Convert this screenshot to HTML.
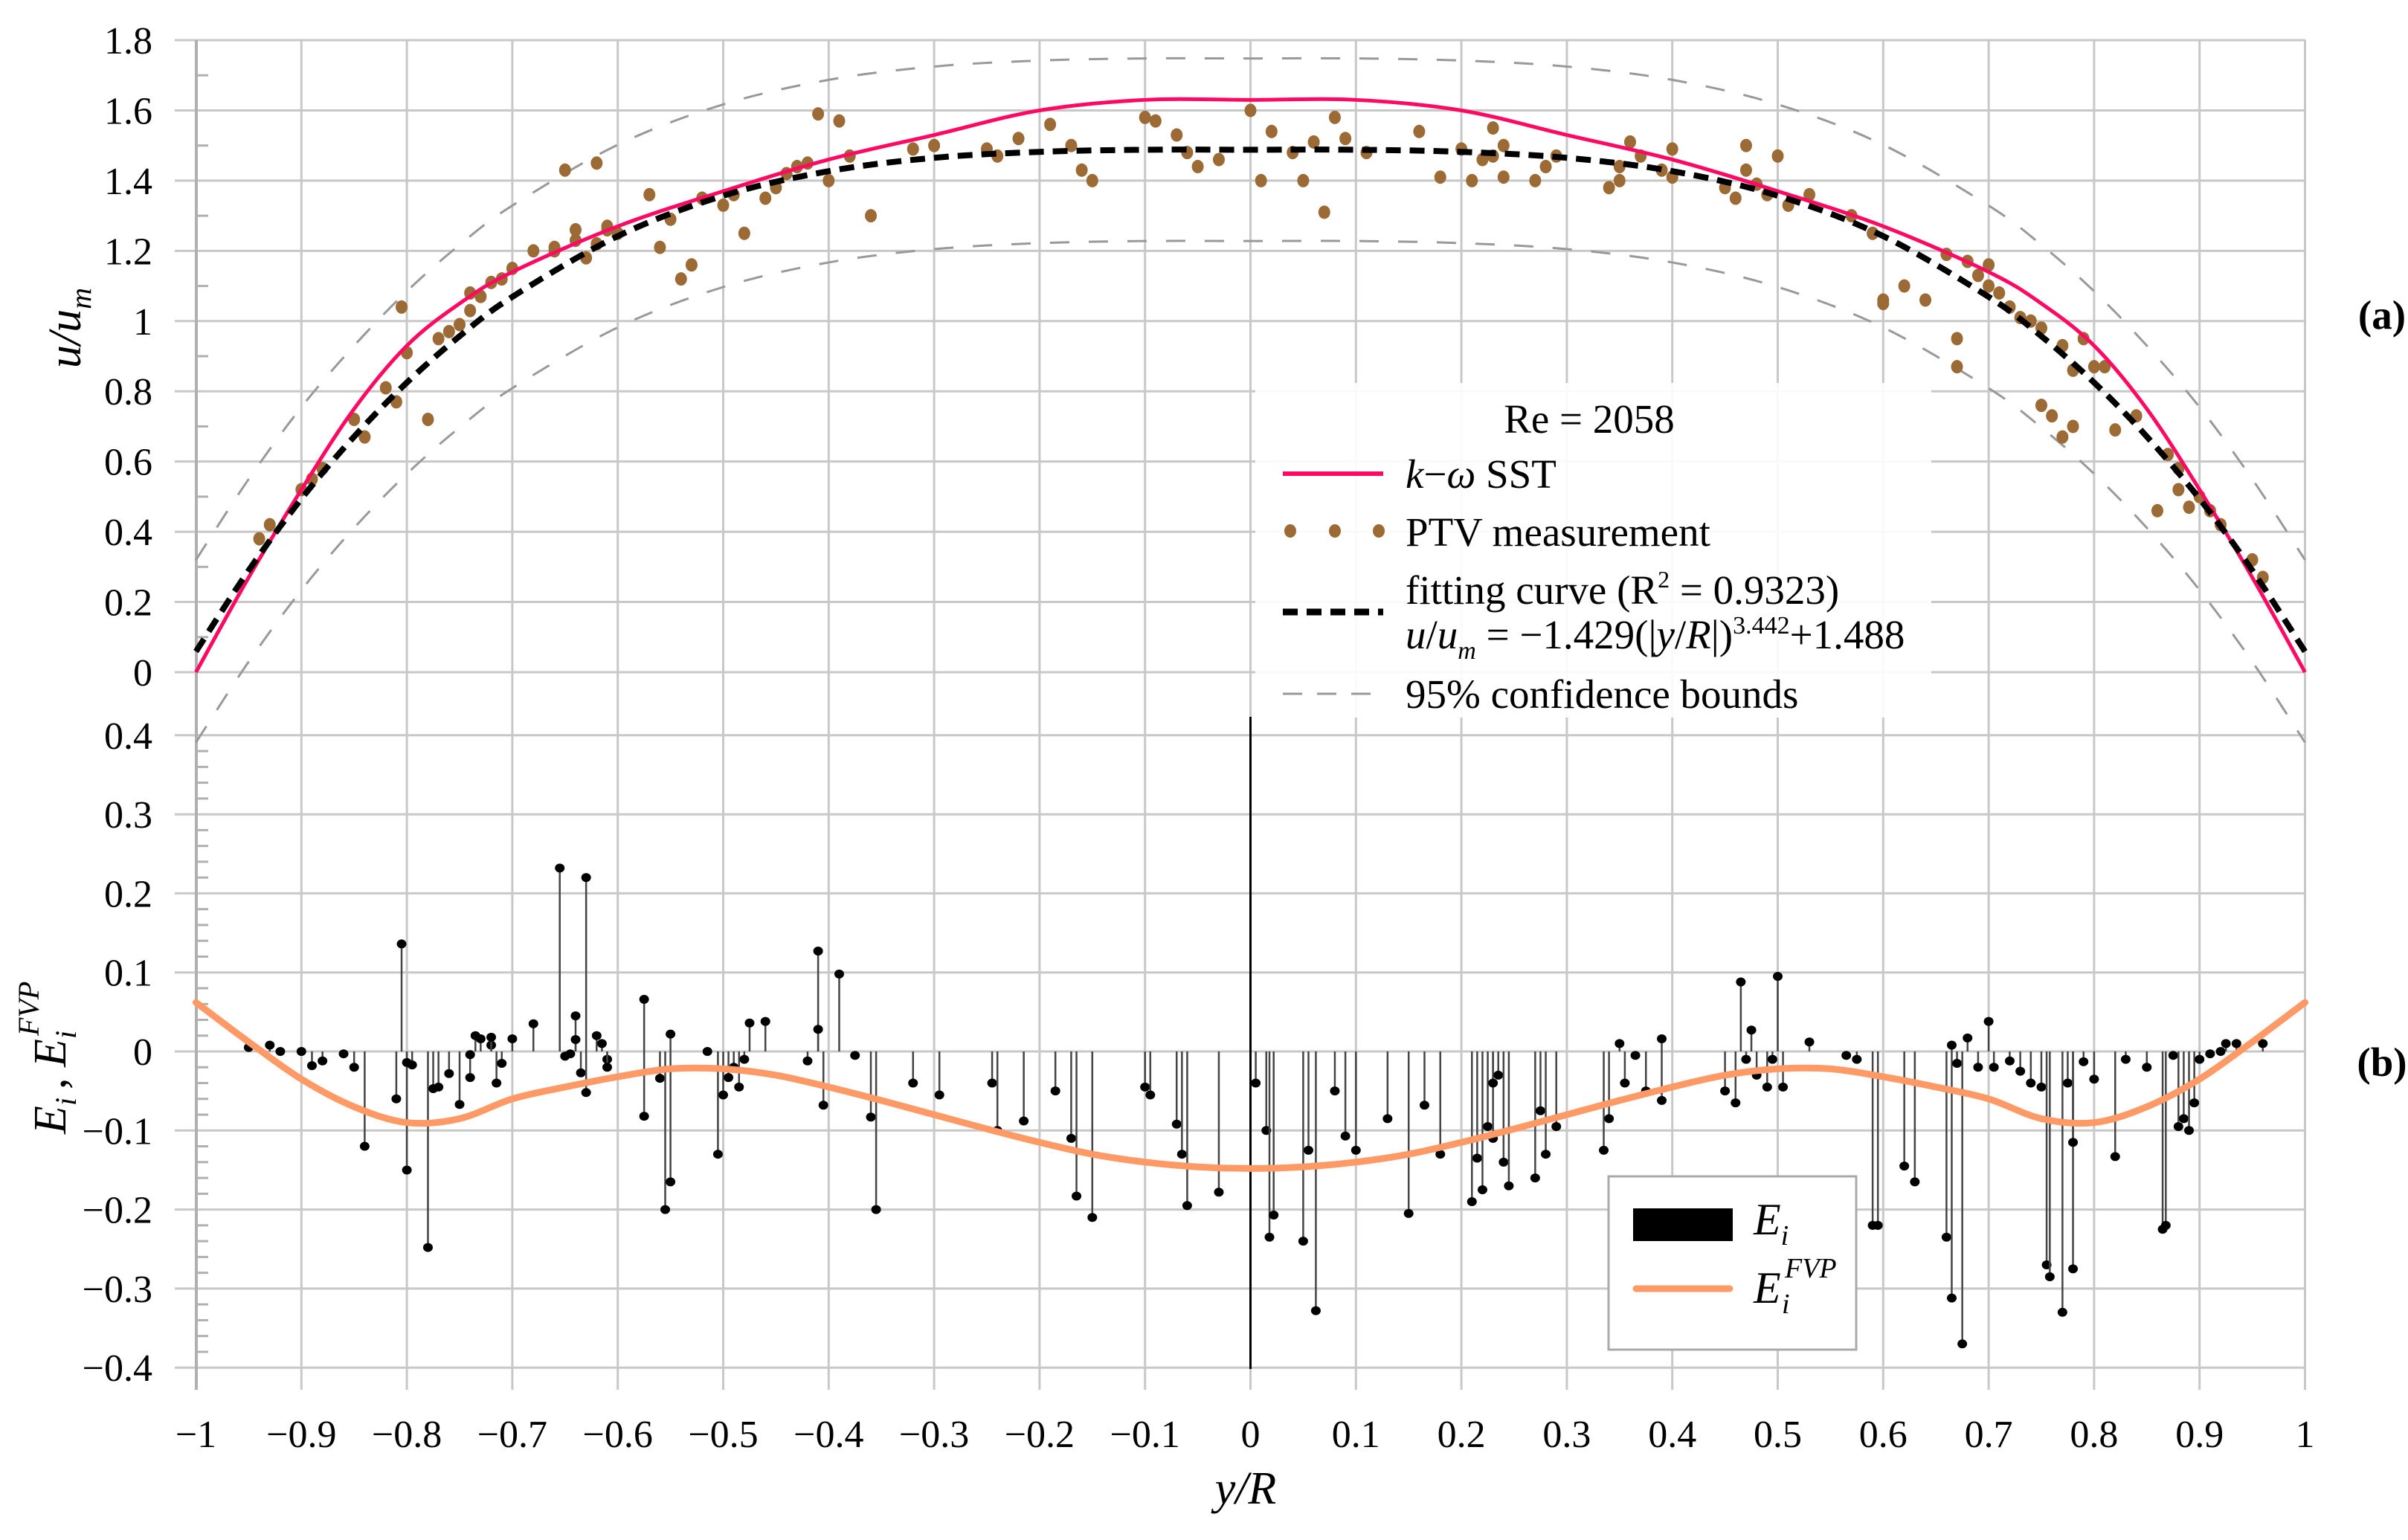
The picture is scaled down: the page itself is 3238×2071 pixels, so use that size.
<!DOCTYPE html>
<html><head><meta charset="utf-8"><style>
body{margin:0;background:#fff;font-family:"Liberation Serif","Times New Roman",Times,"DejaVu Serif",serif}
svg, svg text{font-family:"Liberation Serif","Times New Roman",Times,"DejaVu Serif",serif}
</style></head><body>
<svg id="chart" width="3238" height="2071" viewBox="0 0 3238 2071" xmlns="http://www.w3.org/2000/svg" style="position:absolute;left:0;top:0">
<rect width="3238" height="2071" fill="#fff"/>
<g id="grid"></g>
<g id="marks"></g>
</svg>
<script>
// ---- data ----
const xTicks = [-1,-0.9,-0.8,-0.7,-0.6,-0.5,-0.4,-0.3,-0.2,-0.1,0,0.1,0.2,0.3,0.4,0.5,0.6,0.7,0.8,0.9,1];
const xTickLabels = ["\u22121","\u22120.9","\u22120.8","\u22120.7","\u22120.6","\u22120.5","\u22120.4","\u22120.3","\u22120.2","\u22120.1","0","0.1","0.2","0.3","0.4","0.5","0.6","0.7","0.8","0.9","1"];
const topYTicks = [0,0.2,0.4,0.6,0.8,1,1.2,1.4,1.6,1.8];
const topYTickLabels = ["0","0.2","0.4","0.6","0.8","1","1.2","1.4","1.6","1.8"];
const botYTicks = [-0.4,-0.3,-0.2,-0.1,0,0.1,0.2,0.3,0.4];
const botYTickLabels = ["\u22120.4","\u22120.3","\u22120.2","\u22120.1","0","0.1","0.2","0.3","0.4"];

const sstX = [-1,-0.95,-0.9,-0.85,-0.8,-0.75,-0.7,-0.6,-0.5,-0.4,-0.3,-0.2,-0.1,0,0.1,0.2,0.3,0.4,0.5,0.6,0.7,0.75,0.8,0.85,0.9,0.95,1];
const sstU = [0,0.27,0.52,0.75,0.93,1.05,1.14,1.27,1.37,1.46,1.53,1.6,1.63,1.63,1.63,1.6,1.53,1.46,1.37,1.27,1.14,1.05,0.93,0.75,0.52,0.27,0];

const fitX = [-1,-0.95,-0.9,-0.85,-0.8,-0.75,-0.7,-0.6,-0.5,-0.4,-0.3,-0.2,-0.1,0,0.1,0.2,0.3,0.4,0.5,0.6,0.7,0.75,0.8,0.85,0.9,0.95,1];
const fitU = [0.059,0.290,0.494,0.671,0.825,0.957,1.069,1.242,1.357,1.427,1.465,1.482,1.488,1.488,1.488,1.482,1.465,1.427,1.357,1.242,1.069,0.957,0.825,0.671,0.494,0.290,0.059];
const upperU = [0.32,0.55,0.755,0.93,1.085,1.217,1.329,1.502,1.617,1.687,1.725,1.742,1.748,1.748,1.748,1.742,1.725,1.687,1.617,1.502,1.329,1.217,1.085,0.93,0.755,0.55,0.32];
const lowerU = [-0.20,0.03,0.234,0.411,0.565,0.697,0.809,0.982,1.097,1.167,1.205,1.222,1.228,1.228,1.228,1.222,1.205,1.167,1.097,0.982,0.809,0.697,0.565,0.411,0.234,0.03,-0.20];

const ptvX = [-0.94,-0.93,-0.9,-0.89,-0.88,-0.85,-0.84,-0.82,-0.81,-0.8,-0.805,-0.78,-0.77,-0.76,-0.75,-0.74,-0.73,-0.72,-0.71,-0.7,-0.68,-0.66,-0.65,-0.64,-0.63,-0.62,-0.61,-0.6,-0.62,-0.57,-0.56,-0.55,-0.54,-0.53,-0.52,-0.5,-0.49,-0.48,-0.46,-0.45,-0.44,-0.43,-0.42,-0.38,-0.41,-0.39,-0.4,-0.36,-0.32,-0.3,-0.25,-0.24,-0.22,-0.19,-0.17,-0.16,-0.15,-0.1,-0.09,-0.07,-0.06,-0.05,-0.03,0,0.02,0.01,0.04,0.05,0.06,0.07,0.08,0.09,0.11,0.16,0.18,0.2,0.21,0.22,0.23,0.23,0.24,0.24,0.27,0.28,0.29,0.34,0.35,0.35,0.36,0.37,0.39,0.4,0.4,0.45,0.46,0.47,0.47,0.48,0.49,0.5,0.51,0.53,0.57,0.59,0.6,0.6,0.62,0.64,0.66,0.67,0.67,0.68,0.69,0.7,0.7,0.71,0.72,0.73,0.74,0.75,0.75,0.76,0.77,0.77,0.78,0.79,0.78,0.8,0.81,0.82,0.84,0.86,0.87,0.88,0.88,0.89,0.9,0.91,0.92,0.95,0.96,-0.66,-0.64,-0.61,-0.74];
const ptvU = [0.38,0.42,0.52,0.55,0.58,0.72,0.67,0.81,0.77,0.91,1.04,0.72,0.95,0.97,0.99,1.03,1.07,1.11,1.12,1.15,1.2,1.2,1.43,1.26,1.18,1.45,1.27,1.25,1.22,1.36,1.21,1.29,1.12,1.16,1.35,1.33,1.36,1.25,1.35,1.38,1.42,1.44,1.45,1.47,1.59,1.57,1.4,1.3,1.49,1.5,1.49,1.47,1.52,1.56,1.5,1.43,1.4,1.58,1.57,1.53,1.48,1.44,1.46,1.6,1.54,1.4,1.48,1.4,1.51,1.31,1.58,1.52,1.48,1.54,1.41,1.49,1.4,1.46,1.55,1.47,1.5,1.41,1.4,1.44,1.47,1.38,1.4,1.44,1.51,1.47,1.43,1.49,1.41,1.38,1.35,1.5,1.43,1.39,1.36,1.47,1.33,1.36,1.3,1.25,1.06,1.05,1.1,1.06,1.19,0.95,0.87,1.17,1.13,1.1,1.16,1.08,1.04,1.01,1.0,0.98,0.76,0.73,0.67,0.93,0.7,0.95,0.86,0.87,0.87,0.69,0.73,0.46,0.62,0.58,0.52,0.47,0.5,0.46,0.42,0.32,0.27,1.21,1.23,1.26,1.08];

const errX = [-0.95,-0.93,-0.92,-0.9,-0.89,-0.88,-0.86,-0.85,-0.84,-0.81,-0.805,-0.8,-0.8,-0.795,-0.78,-0.775,-0.77,-0.76,-0.75,-0.74,-0.74,-0.735,-0.73,-0.72,-0.72,-0.715,-0.71,-0.7,-0.68,-0.655,-0.65,-0.645,-0.64,-0.64,-0.635,-0.63,-0.63,-0.62,-0.615,-0.61,-0.61,-0.575,-0.575,-0.56,-0.555,-0.55,-0.55,-0.515,-0.505,-0.5,-0.495,-0.49,-0.485,-0.48,-0.475,-0.46,-0.41,-0.41,-0.405,-0.42,-0.39,-0.375,-0.36,-0.355,-0.32,-0.295,-0.245,-0.24,-0.215,-0.185,-0.17,-0.165,-0.15,-0.1,-0.095,-0.07,-0.065,-0.06,-0.03,0.005,0.015,0.018,0.022,0.05,0.055,0.062,0.08,0.09,0.1,0.13,0.15,0.165,0.18,0.21,0.215,0.22,0.225,0.23,0.23,0.235,0.24,0.245,0.27,0.275,0.28,0.29,0.335,0.34,0.35,0.355,0.365,0.375,0.39,0.39,0.45,0.46,0.465,0.47,0.475,0.48,0.49,0.495,0.5,0.505,0.53,0.565,0.575,0.59,0.595,0.62,0.63,0.66,0.665,0.665,0.67,0.675,0.68,0.69,0.7,0.705,0.72,0.73,0.74,0.75,0.755,0.758,0.77,0.775,0.78,0.78,0.79,0.8,0.82,0.83,0.85,0.865,0.868,0.875,0.88,0.885,0.89,0.895,0.9,0.91,0.92,0.925,0.935,0.96];
const errE = [0.005,0.008,0.0,0.0,-0.018,-0.012,-0.003,-0.02,-0.12,-0.06,0.136,-0.15,-0.014,-0.017,-0.248,-0.047,-0.045,-0.028,-0.067,-0.033,-0.004,0.02,0.016,0.008,0.018,-0.04,-0.015,0.016,0.035,0.232,-0.006,-0.003,0.045,0.015,-0.027,-0.052,0.22,0.02,0.01,-0.01,-0.02,0.066,-0.082,-0.034,-0.2,-0.165,0.022,0.0,-0.13,-0.055,-0.033,-0.02,-0.045,-0.01,0.036,0.038,0.127,0.028,-0.068,-0.012,0.098,-0.005,-0.083,-0.2,-0.04,-0.055,-0.04,-0.1,-0.088,-0.05,-0.11,-0.183,-0.21,-0.045,-0.055,-0.092,-0.13,-0.195,-0.178,-0.04,-0.1,-0.235,-0.207,-0.24,-0.125,-0.328,-0.05,-0.107,-0.125,-0.085,-0.205,-0.068,-0.13,-0.19,-0.135,-0.175,-0.095,-0.11,-0.04,-0.03,-0.14,-0.17,-0.16,-0.075,-0.13,-0.095,-0.125,-0.085,0.01,-0.04,-0.005,-0.05,0.016,-0.062,-0.05,-0.065,0.088,-0.01,0.027,-0.03,-0.045,-0.01,0.095,-0.045,0.012,-0.005,-0.01,-0.22,-0.22,-0.145,-0.165,-0.235,-0.312,0.008,-0.015,-0.37,0.017,-0.02,0.038,-0.02,-0.012,-0.025,-0.04,-0.045,-0.27,-0.285,-0.33,-0.04,-0.275,-0.115,-0.013,-0.035,-0.133,-0.01,-0.02,-0.225,-0.22,-0.005,-0.095,-0.085,-0.1,-0.065,-0.01,-0.003,0.0,0.01,0.01,0.01];

const fvpX = [-1,-0.95,-0.9,-0.85,-0.8,-0.75,-0.7,-0.65,-0.6,-0.55,-0.5,-0.45,-0.4,-0.35,-0.3,-0.25,-0.2,-0.15,-0.1,-0.05,0,0.05,0.1,0.15,0.2,0.25,0.3,0.35,0.4,0.45,0.5,0.55,0.6,0.65,0.7,0.75,0.8,0.85,0.9,0.95,1];
const fvpE = [0.062,0.012,-0.035,-0.07,-0.09,-0.085,-0.06,-0.045,-0.032,-0.022,-0.022,-0.03,-0.045,-0.062,-0.08,-0.098,-0.115,-0.13,-0.14,-0.146,-0.148,-0.146,-0.14,-0.13,-0.115,-0.098,-0.08,-0.062,-0.045,-0.03,-0.022,-0.022,-0.032,-0.045,-0.06,-0.085,-0.09,-0.07,-0.035,0.012,0.062];

// ---- axes ----
const NS = "http://www.w3.org/2000/svg";
const X = v => 1681.5 + v * 1418;
const YT = v => 904 - v * 472.2;
const YB = v => 1414 - v * 1063;
const FONT = '"Liberation Serif","Times New Roman",Times,"DejaVu Serif",serif';
function mk(tag, attrs, parent, text){
  const el = document.createElementNS(NS, tag);
  for (const k in attrs) el.setAttribute(k, attrs[k]);
  if (tag === 'text') el.setAttribute('font-family', FONT);
  if (text !== undefined) el.textContent = text;
  parent.appendChild(el);
  return el;
}
const grid = document.getElementById('grid');
const marks = document.getElementById('marks');
const G = '#c8c8c8';

xTicks.forEach((t, i) => {
  const l = mk('line', {x1:X(t), x2:X(t), y1:54, y2:1869, stroke:G, 'stroke-width':3}, grid);
  
  
  const tx = mk('text', {x:X(t), y:1946, 'font-size':52, 'text-anchor':'middle', fill:'#000'}, grid, xTickLabels[i]);
  
  
});
topYTicks.forEach((t, i) => {
  const l = mk('line', {x1:235, x2:3100, y1:YT(t), y2:YT(t), stroke:G, 'stroke-width':3}, grid);
  
  
  const tx = mk('text', {x:205, y:YT(t) + 18, 'font-size':52, 'text-anchor':'end'}, grid, topYTickLabels[i]);
  
  
});
for (let v = 0.1; v < 1.8; v += 0.2) {
  const m = mk('line', {x1:264, x2:280, y1:YT(v), y2:YT(v), stroke:'#b0b0b0', 'stroke-width':3}, grid);
  
  
}
botYTicks.forEach((t, i) => {
  const l = mk('line', {x1:235, x2:3100, y1:YB(t), y2:YB(t), stroke:G, 'stroke-width':3}, grid);
  
  
  const tx = mk('text', {x:205, y:YB(t) + 18, 'font-size':52, 'text-anchor':'end'}, grid, botYTickLabels[i]);
  
  
});
for (let k = -19; k <= 19; k++) {
  if (k % 5 === 0) continue;
  const m = mk('line', {x1:264, x2:280, y1:YB(k * 0.02), y2:YB(k * 0.02), stroke:'#b0b0b0', 'stroke-width':3}, grid);
  
  
}
const ax = mk('line', {x1:264, x2:264, y1:54, y2:1869, stroke:'#b0b0b0', 'stroke-width':4}, grid);



function smoothPath(xs, ys, fx, fy){
  const p = xs.map((x, i) => [fx(x), fy(ys[i])]);
  let d = 'M' + p[0][0] + ',' + p[0][1];
  for (let i = 0; i < p.length - 1; i++) {
    const p0 = p[i - 1] || p[i], p1 = p[i], p2 = p[i + 1], p3 = p[i + 2] || p2;
    d += 'C' + (p1[0] + (p2[0] - p0[0]) / 6) + ',' + (p1[1] + (p2[1] - p0[1]) / 6) + ' ' + (p2[0] - (p3[0] - p1[0]) / 6) + ',' + (p2[1] - (p3[1] - p1[1]) / 6) + ' ' + p2[0] + ',' + p2[1];
  }
  return d;
}
const up = mk('path', {d:smoothPath(fitX, upperU, X, YT), fill:'none', stroke:'#999', 'stroke-width':3, 'stroke-dasharray':'26 26'}, marks);


const lo = mk('path', {d:smoothPath(fitX, lowerU, X, YT), fill:'none', stroke:'#999', 'stroke-width':3, 'stroke-dasharray':'26 26'}, marks);



ptvX.forEach((x, i) => {
  const c = mk('ellipse', {cx:X(x), cy:YT(ptvU[i]), rx:8, ry:9, fill:'#9b6a35'}, marks);
  
  
});
const sst = mk('path', {d:smoothPath(sstX, sstU, X, YT), fill:'none', stroke:'#ff0a63', 'stroke-width':5}, marks);


const fit = mk('path', {d:smoothPath(fitX, fitU, X, YT), fill:'none', stroke:'#000', 'stroke-width':8, 'stroke-dasharray':'20 12'}, marks);



const zl = mk('line', {x1:X(0), x2:X(0), y1:964, y2:1841, stroke:'#000', 'stroke-width':3}, marks);


errX.forEach((x, i) => {
  const s = mk('line', {x1:X(x), x2:X(x), y1:YB(0), y2:YB(errE[i]), stroke:'#444', 'stroke-width':2.5}, marks);
  
  
  const c = mk('ellipse', {cx:X(x), cy:YB(errE[i]), rx:6.5, ry:6, fill:'#000'}, marks);
  
  
});
const fvp = mk('path', {d:smoothPath(fvpX, fvpE, X, YB), fill:'none', stroke:'#ff9966', 'stroke-width':9, 'stroke-linecap':'round'}, marks);


</script>
<svg style="position:absolute;left:0;top:0" width="3238" height="2071" viewBox="0 0 3238 2071" xmlns="http://www.w3.org/2000/svg" font-family="'Liberation Serif','Times New Roman',Times,'DejaVu Serif',serif">
<g>
<rect x="1688" y="515" width="909" height="450" fill="#fff" fill-opacity="0.9"/>
<text x="2137" y="582" font-size="55" text-anchor="middle">Re = 2058</text>
<line x1="1725" x2="1860" y1="637" y2="637" stroke="#ff0a63" stroke-width="6"/>
<text x="1890" y="656" font-size="55"><tspan font-style="italic">k</tspan>−<tspan font-style="italic">ω</tspan> SST</text>
<g fill="#9b6a35"><ellipse cx="1735" cy="714" rx="8" ry="9"/><ellipse cx="1795" cy="714" rx="8" ry="9"/><ellipse cx="1854" cy="714" rx="8" ry="9"/></g>
<text x="1890" y="734" font-size="55">PTV measurement</text>
<line x1="1725" x2="1860" y1="823" y2="823" stroke="#000" stroke-width="9" stroke-dasharray="20 12"/>
<text x="1890" y="812" font-size="55">fitting curve (R<tspan font-size="32" dy="-22">2</tspan><tspan dy="22"> = 0.9323)</tspan></text>
<text x="1890" y="872" font-size="55"><tspan font-style="italic">u</tspan>/<tspan font-style="italic">u</tspan><tspan font-style="italic" font-size="34" dy="14">m</tspan><tspan dy="-14"> = −1.429(|</tspan><tspan font-style="italic">y</tspan>/<tspan font-style="italic">R</tspan>|)<tspan font-size="34" dy="-20">3.442</tspan><tspan dy="20">+1.488</tspan></text>
<line x1="1725" x2="1860" y1="933" y2="933" stroke="#999" stroke-width="3" stroke-dasharray="26 20"/>
<text x="1890" y="952" font-size="55">95% confidence bounds</text>
</g>
<g>
<rect x="2163" y="1582" width="333" height="233" fill="#fff" stroke="#aaa" stroke-width="3"/>
<rect x="2196" y="1625" width="134" height="44" fill="#000"/>
<text x="2358" y="1660" font-size="60" font-style="italic">E<tspan font-size="38" dy="14">i</tspan></text>
<line x1="2200" x2="2326" y1="1733" y2="1733" stroke="#ff9966" stroke-width="9" stroke-linecap="round"/>
<text x="2358" y="1752" font-size="60" font-style="italic">E</text>
<text x="2396" y="1766" font-size="38" font-style="italic">i</text>
<text x="2400" y="1718" font-size="38" font-style="italic">FVP</text>
</g>
<text x="3203" y="442" font-size="55" font-weight="bold" text-anchor="middle">(a)</text>
<text x="3203" y="1447" font-size="55" font-weight="bold" text-anchor="middle">(b)</text>
<text transform="translate(108,441) rotate(-90)" font-size="62" font-style="italic" text-anchor="middle">u/u<tspan font-size="40" dy="14">m</tspan></text>
<g transform="translate(88,1415) rotate(-90)">
<text x="-110" y="0" font-size="62" font-style="italic">E</text>
<text x="-72" y="14" font-size="40" font-style="italic">i</text>
<text x="-50" y="0" font-size="62">,</text>
<text x="-20" y="0" font-size="62" font-style="italic">E</text>
<text x="18" y="14" font-size="40" font-style="italic">i</text>
<text x="22" y="-36" font-size="40" font-style="italic">FVP</text>
</g>
<text x="1675" y="2022" font-size="62" font-style="italic" text-anchor="middle">y/R</text>
</svg>
</body></html>
